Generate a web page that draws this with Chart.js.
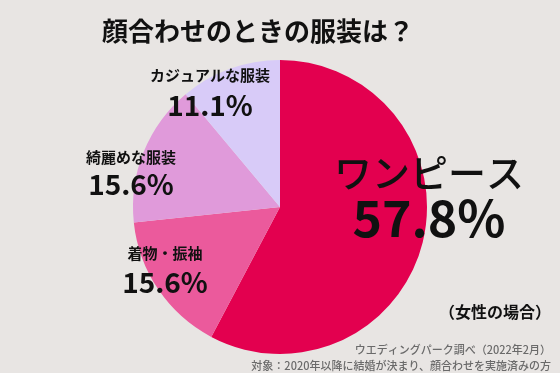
<!DOCTYPE html>
<html>
<head>
<meta charset="utf-8">
<script src="https://cdn.jsdelivr.net/npm/chart.js@4/dist/chart.umd.min.js"></script>
<style>
  html, body { margin: 0; padding: 0; background: #e8e5e3; }
  #wrap { width: 560px; height: 373px; }
</style>
</head>
<body>
<div id="wrap"><canvas id="pie"></canvas></div>
<script>
const categories = ['ワンピース', '着物・振袖', '綺麗めな服装', 'カジュアルな服装'];
const percents = [57.8, 15.6, 15.6, 11.1];
const colors = ['#e3004f', '#eb5a9c', '#e09ada', '#d8cbf8'];

const title = '顔合わせのときの服装は？';
const note = '（女性の場合）';
const sources = ['ウエディングパーク調べ（2022年2月）', '対象：2020年以降に結婚が決まり、顔合わせを実施済みの方'];

const FONT = '"Noto Sans CJK JP", "Noto Sans", sans-serif';

// label placement: [x, y of name, y of value, name size, value size]
const labelPos = [
  [429, 173, 218, 38, 50],
  [165, 253, 282, 15, 28],
  [131, 157, 184, 15, 28],
  [210, 75, 105, 15, 28]
];

const textPlugin = {
  id: 'texts',
  afterDraw(chart) {
    const ctx = chart.ctx;
    ctx.save();
    ctx.fillStyle = '#111';
    ctx.textBaseline = 'middle';
    ctx.textAlign = 'center';
    ctx.font = 'bold 26px ' + FONT;
    ctx.fillText(title, 258, 31);

    categories.forEach((name, i) => {
      const [x, y1, y2, s1, s2] = labelPos[i];
      ctx.font = (i === 0 ? '500 ' : 'bold ') + s1 + 'px ' + FONT;
      ctx.fillText(name, x, y1);
      ctx.font = 'bold ' + s2 + 'px ' + FONT;
      ctx.fillText(percents[i].toFixed(1) + '%', x, y2);
    });

    ctx.font = 'bold 16px ' + FONT;
    ctx.fillText(note, 495, 312);

    ctx.textAlign = 'right';
    ctx.fillStyle = '#6a6a6a';
    ctx.font = '500 11px ' + FONT;
    ctx.fillText(sources[0], 551, 350);
    ctx.fillText(sources[1], 551, 366);
    ctx.restore();
  }
};

new Chart(document.getElementById('pie'), {
  type: 'pie',
  data: {
    labels: categories,
    datasets: [{
      data: percents,
      backgroundColor: colors,
      borderWidth: 0
    }]
  },
  options: {
    responsive: true,
    maintainAspectRatio: false,
    animation: false,
    layout: { padding: { left: 133, right: 133, top: 60, bottom: 19 } },
    plugins: {
      legend: { display: false },
      tooltip: { enabled: false }
    }
  },
  plugins: [textPlugin]
});
</script>
</body>
</html>
